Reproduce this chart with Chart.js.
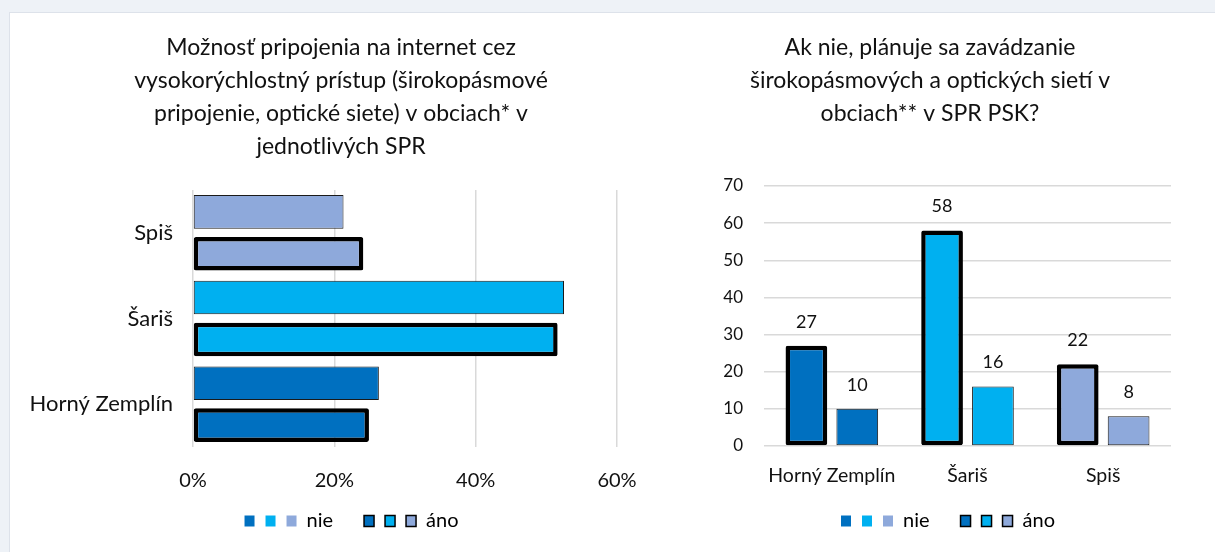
<!DOCTYPE html>
<html lang="sk">
<head>
<meta charset="utf-8">
<title>Pripojenie na internet v SPR</title>
<script src="https://cdn.jsdelivr.net/npm/chart.js@4.4.1/dist/chart.umd.min.js"></script>
<style>
    html, body { margin: 0; padding: 0; }
    body {
        width: 1215px;
        height: 552px;
        background: #eef2f7;
        position: relative;
        overflow: hidden;
        font-family: Lato, sans-serif;
    }
    .panel {
        position: absolute;
        left: 9px;
        top: 12px;
        right: 0;
        bottom: 0;
        background: #ffffff;
        border-left: 1px solid #dde2ea;
        border-top: 1px solid #dde2ea;
    }
    .graf { position: absolute; }
    #obalVlavo { left: 20px; top: 14px; width: 642px; height: 527px; }
    #obalVpravo { left: 680px; top: 14px; width: 500px; height: 527px; }
</style>
</head>
<body>
<div class="panel"></div>
<div class="graf" id="obalVlavo"><canvas id="grafVlavo"></canvas></div>
<div class="graf" id="obalVpravo"><canvas id="grafVpravo"></canvas></div>

<script>
// ľavý graf - podiel obcí (%)
const kategorieVlavo = ["Spiš", "Šariš", "Horný Zemplín"];
const pripojenieNie = [21.3, 52.5, 26.3];
const pripojenieAno = [24.1, 51.6, 24.9];
const farbyVlavo = ["#8EA9DB", "#00B0F0", "#0070C0"];
const tickyVlavo = [0, 20, 40, 60];
const nadpisVlavo = [
    "Možnosť pripojenia na internet cez",
    "vysokorýchlostný prístup (širokopásmové",
    "pripojenie, optické siete) v obciach* v",
    "jednotlivých SPR",
];

// pravý graf - počet obcí
const kategorieVpravo = ["Horný Zemplín", "Šariš", "Spiš"];
const planAno = [27, 58, 22];
const planNie = [10, 16, 8];
const farbyVpravo = ["#0070C0", "#00B0F0", "#8EA9DB"];
const tickyVpravo = [0, 10, 20, 30, 40, 50, 60, 70];
const nadpisVpravo = [
    "Ak nie, plánuje sa zavádzanie",
    "širokopásmových a optických sietí v",
    "obciach** v SPR PSK?",
];

const farbyLegendy = ["#0070C0", "#00B0F0", "#8EA9DB"];
const textCierny = "#111111";
const mriezka = "#d9d9d9";

// legenda ako v Exceli: tri farebné štvorčeky pre každú sériu
function polozkyLegendy(posun) {
    const polozky = [
        {
            text: posun,
            fillStyle: "rgba(0,0,0,0)",
            strokeStyle: "rgba(0,0,0,0)",
            lineWidth: 0,
            hidden: false,
        },
    ];

    farbyLegendy.forEach((farba, i) => {
        polozky.push({
            text: i === 2 ? "nie\u2003\u2003" : "",
            fillStyle: farba,
            strokeStyle: farba,
            lineWidth: 0,
            hidden: false,
        });
    });

    farbyLegendy.forEach((farba, i) => {
        polozky.push({
            text: i === 2 ? "áno" : "",
            fillStyle: farba,
            strokeStyle: "#000000",
            lineWidth: 1.5,
            hidden: false,
        });
    });

    return polozky;
}

function nastavenieLegendy(posun) {
    return {
        display: true,
        position: "bottom",
        onClick: null,
        labels: {
            boxWidth: 10,
            boxHeight: 11,
            padding: 1,
            color: textCierny,
            font: { family: "Lato", size: 20 },
            generateLabels: () => polozkyLegendy(posun),
        },
    };
}

function nastavenieNadpisu(riadky, spodok) {
    return {
        display: true,
        text: riadky,
        color: textCierny,
        font: { family: "Lato", size: 23, weight: "normal", lineHeight: 33 / 23 },
        padding: { top: 17.5, bottom: spodok },
    };
}

const labelNadStlpcom = {
    id: "labelNadStlpcom",
    afterDatasetsDraw(chart) {
        const ctx = chart.ctx;
        ctx.save();
        ctx.font = "18px Lato";
        ctx.fillStyle = textCierny;
        ctx.textAlign = "center";
        ctx.textBaseline = "middle";
        chart.data.datasets.forEach((dataset, i) => {
            chart.getDatasetMeta(i).data.forEach((stlpec, j) => {
                ctx.fillText(dataset.data[j], stlpec.x, stlpec.y - 24);
            });
        });
        ctx.restore();
    },
};

new Chart(document.getElementById("grafVlavo"), {
    type: "bar",
    data: {
        labels: kategorieVlavo,
        datasets: [
            {
                label: "nie",
                data: pripojenieNie,
                backgroundColor: farbyVlavo,
                borderColor: "#1a1a1a",
                borderWidth: 1,
                borderSkipped: false,
                categoryPercentage: 0.98,
                barPercentage: 0.8,
            },
            {
                label: "áno",
                data: pripojenieAno,
                backgroundColor: farbyVlavo,
                borderColor: "#000000",
                borderWidth: 4.5,
                borderRadius: 2,
                borderSkipped: false,
                categoryPercentage: 0.98,
                barPercentage: 0.8,
            },
        ],
    },
    options: {
        indexAxis: "y",
        responsive: true,
        maintainAspectRatio: false,
        animation: false,
        layout: { padding: 0 },
        plugins: {
            title: nastavenieNadpisu(nadpisVlavo, 26.5),
            legend: nastavenieLegendy(""),
            tooltip: { enabled: false },
        },
        scales: {
            x: {
                min: 0,
                max: 60,
                afterBuildTicks: (os) => {
                    os.ticks = tickyVlavo.map((v) => ({ value: v }));
                },
                afterFit: (os) => {
                    os.height = 63;
                },
                grid: { color: mriezka, lineWidth: 1.5, drawTicks: false },
                border: { display: false },
                ticks: {
                    padding: 22,
                    color: textCierny,
                    font: { family: "Lato", size: 20 },
                    callback: (v) => v + "%",
                },
            },
            y: {
                afterFit: (os) => {
                    os.width = 173;
                },
                grid: { display: false, drawTicks: false },
                border: { display: false },
                ticks: {
                    padding: 20,
                    color: textCierny,
                    font: { family: "Lato", size: 22 },
                },
            },
            // prázdny pruh vpravo, aby nadpis ostal nad stredom celého grafu
            yPravy: {
                type: "category",
                position: "right",
                afterFit: (os) => {
                    os.width = 45;
                },
                grid: { display: false, drawTicks: false },
                border: { display: false },
                ticks: { display: false },
            },
        },
    },
});

new Chart(document.getElementById("grafVpravo"), {
    type: "bar",
    data: {
        labels: kategorieVpravo,
        datasets: [
            {
                label: "áno",
                data: planAno,
                backgroundColor: farbyVpravo,
                borderColor: "#000000",
                borderWidth: 4.5,
                borderRadius: 2,
                borderSkipped: false,
                categoryPercentage: 0.75,
                barPercentage: 0.82,
            },
            {
                label: "nie",
                data: planNie,
                backgroundColor: farbyVpravo,
                borderColor: "#1a1a1a",
                borderWidth: 1,
                borderSkipped: false,
                categoryPercentage: 0.75,
                barPercentage: 0.82,
            },
        ],
    },
    plugins: [labelNadStlpcom],
    options: {
        responsive: true,
        maintainAspectRatio: false,
        animation: false,
        layout: { padding: { left: 9, right: 9, top: 0, bottom: 0 } },
        plugins: {
            title: nastavenieNadpisu(nadpisVpravo, 55.5),
            legend: nastavenieLegendy("\u2003"),
            tooltip: { enabled: false },
        },
        scales: {
            x: {
                afterFit: (os) => {
                    os.height = 64;
                },
                grid: { display: false, drawTicks: false },
                border: { display: false },
                ticks: {
                    padding: 18,
                    color: textCierny,
                    font: { family: "Lato", size: 19.5 },
                },
            },
            y: {
                min: 0,
                max: 70,
                afterBuildTicks: (os) => {
                    os.ticks = tickyVpravo.map((v) => ({ value: v }));
                },
                afterFit: (os) => {
                    os.width = 75;
                },
                grid: { color: mriezka, lineWidth: 1.5, drawTicks: false },
                border: { display: false },
                ticks: {
                    padding: 21,
                    color: textCierny,
                    font: { family: "Lato", size: 17 },
                },
            },
        },
    },
});
</script>
</body>
</html>
